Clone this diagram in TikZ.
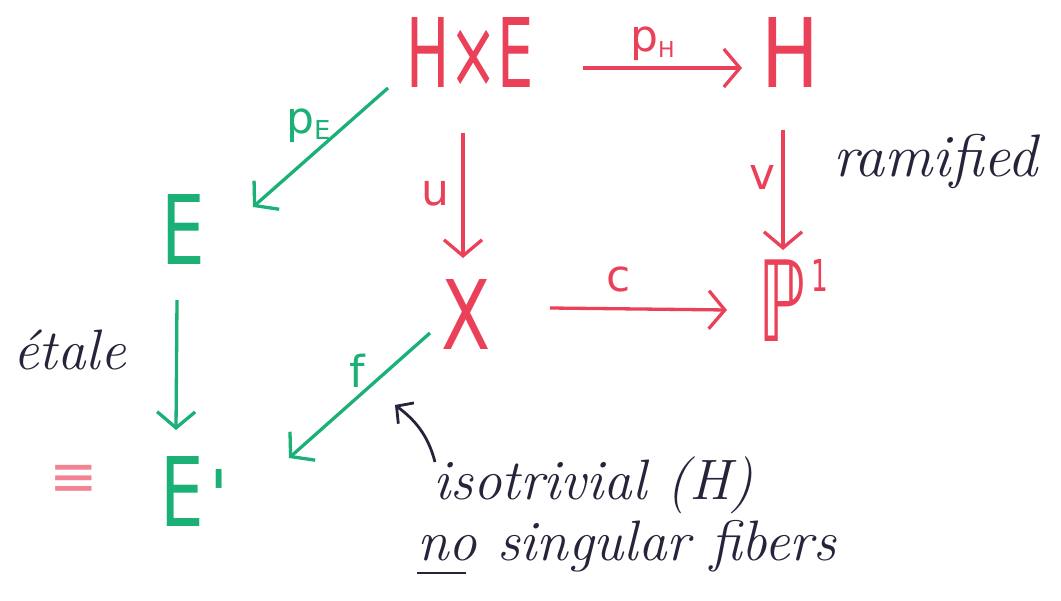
\documentclass[tikz,border=0pt]{standalone}
\usepackage{fontspec}
\usetikzlibrary{arrows.meta}
\newfontfamily\dv{DejaVu Sans}
\definecolor{pred}{RGB}{234,64,88}
\definecolor{pgreen}{RGB}{26,176,118}
\definecolor{ink}{RGB}{38,36,58}
\newcommand\hs[2]{\scalebox{#1}[1]{#2}}
\begin{document}
\begin{tikzpicture}[x=1pt,y=-1pt,
  big/.style={font=\dv\fontsize{96}{96}\selectfont, inner sep=0pt, anchor=base},
  lab/.style={font=\dv\fontsize{44}{44}\selectfont, inner sep=0pt, anchor=base},
  note/.style={font=\fontsize{57}{57}\selectfont\itshape, inner sep=0pt, text=ink, anchor=base west},
  tip/.style={-{Straight Barb[length=16pt,width=38pt,line width=3.3pt]}},
  redarr/.style={draw=pred, line width=3.3pt, tip},
  grnarr/.style={draw=pgreen, line width=3.3pt, tip}]
\useasboundingbox (0,0) rectangle (1061,601);
% objects
\node[big, text=pred] (HE) at (470,88) {\hs{0.6}{H×E}};
\node[big, text=pred] (H) at (790,88) {\hs{0.8}{H}};
\node[big, text=pred] (X) at (466,350) {\hs{0.75}{X}};
\node[big, text=pred, anchor=base west] (P) at (758,342) {\hs{0.6}{\fontsize{112}{112}\selectfont ℙ}\hspace{6pt}\raisebox{50pt}{\hs{0.6}{\fontsize{44}{44}\selectfont 1}}};
\node[big, text=pgreen] (E) at (183,265) {\hs{0.72}{E}};
\node[big, text=pgreen, anchor=base west] (Ep) at (160,527) {\hs{0.72}{E}\hspace{6pt}\raisebox{6pt}{\fontsize{70}{70}\selectfont '}};
% arrow ends
\coordinate (a1) at (583,68); \coordinate (a2) at (742,68);
\coordinate (b1) at (463,133); \coordinate (b2) at (463,258);
\coordinate (c1) at (783,130); \coordinate (c2) at (783,250);
\coordinate (d1) at (550,308); \coordinate (d2) at (727,310);
\coordinate (e1) at (388,88); \coordinate (e2) at (253,207);
\coordinate (g1) at (177,300); \coordinate (g2) at (176,430);
\coordinate (h1) at (430,333); \coordinate (h2) at (289,458);
\draw[redarr] (a1) -- (a2);
\draw[redarr] (b1) -- (b2);
\draw[redarr] (c1) -- (c2);
\draw[redarr] (d1) -- (d2);
\draw[grnarr] (e1) -- (e2);
\draw[grnarr] (g1) -- (g2);
\draw[grnarr] (h1) -- (h2);
% arrow labels
\node[lab, text=pred, anchor=base west] (lpH) at (630,52) {p\raisebox{-6pt}{\fontsize{22}{22}\selectfont H}};
\node[lab, text=pred] (lu) at (435,206) {u};
\node[lab, text=pred] (lv) at (763,190) {v};
\node[lab, text=pred] (lc) at (619,292) {c};
\node[lab, text=pgreen, anchor=base west] (lpE) at (286,134) {p\raisebox{-6pt}{\fontsize{26}{26}\selectfont E}};
\node[lab, text=pgreen] (lf) at (357,388) {f};
% notes
\node[note, font=\fontsize{60}{60}\selectfont\itshape] (ram) at (833,177) {ramified};
\node[note] (et) at (13,370) {étale};
\node[text=pred!65, font=\dv\fontsize{58}{58}\selectfont, inner sep=0pt] (eq) at (74,481) {≡};
\node[note] (iso) at (433,500) {isotrivial (H)};
\node[note] (nosing) at (417,560) {no singular fibers};
\coordinate (ul1) at (417,573); \coordinate (ul2) at (466,573);
\draw[ink, line width=2.6pt] (ul1) -- (ul2);
\coordinate (k1) at (435,462); \coordinate (k2) at (395,405);
\draw[ink, line width=2.8pt, -{Straight Barb[length=12pt,width=26pt,line width=2.8pt]}] (k1) .. controls (428,435) and (415,420) .. (k2);
\end{tikzpicture}
\end{document}
